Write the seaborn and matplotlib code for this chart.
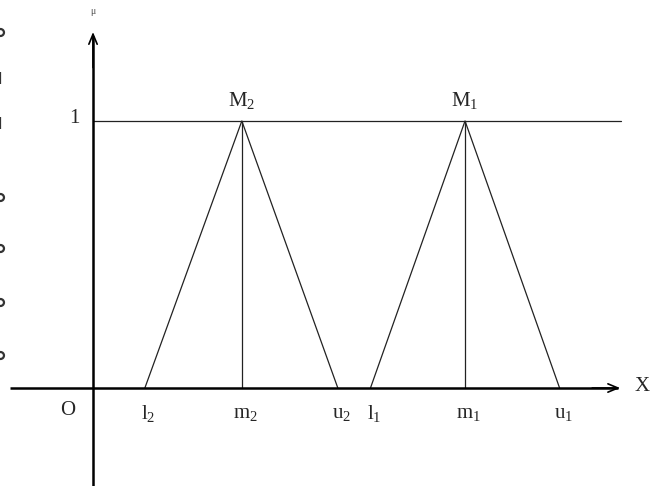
import numpy as np
import pandas as pd
import matplotlib
matplotlib.use("Agg")
import matplotlib.pyplot as plt
import seaborn as sns

# --- data (x positions in axis units) ---
fuzzy_names = ["M2", "M1"]
lower = [0.54, 2.89]
modal = [1.55, 3.875]
upper = [2.55, 4.86]
peak_labels = [r"$\mathrm{M}_2$", r"$\mathrm{M}_1$"]
tick_labels = [r"$\mathrm{l}_2$", r"$\mathrm{m}_2$", r"$\mathrm{u}_2$",
               r"$\mathrm{l}_1$", r"$\mathrm{m}_1$", r"$\mathrm{u}_1$"]
# scan specks along the left edge (y in pixels from top)
edge_rows = [32, 78, 123, 197, 248, 302, 355]
edge_shapes = ["o", "|", "|", "o", "o", "o", "o"]

sns.set_theme(style="white")
plt.rcParams["font.family"] = ["Liberation Serif", "DejaVu Serif"]
plt.rcParams["mathtext.fontset"] = "custom"
plt.rcParams["mathtext.rm"] = "Liberation Serif"
plt.rcParams["mathtext.it"] = "Liberation Serif:italic"

rows = []
for name, l, m, u in zip(fuzzy_names, lower, modal, upper):
    rows += [(name, l, 0.0), (name, m, 1.0), (name, u, 0.0)]
df = pd.DataFrame(rows, columns=["num", "x", "mu"])

fig = plt.figure(figsize=(6.53, 4.86), dpi=100)
ax = fig.add_axes([0, 0, 1, 1])
ax.set_xlim(-0.969, 5.833)
ax.set_ylim(-0.367, 1.453)
ax.axis("off")

# triangles
sns.lineplot(data=df, x="x", y="mu", units="num", estimator=None, sort=False,
             color="#222222", lw=0.9, ax=ax, legend=False)
# verticals at the modal values
for m in modal:
    ax.plot([m, m], [0, 1], color="#222222", lw=0.9)
# level mu = 1
ax.plot([0, 5.5], [1, 1], color="#222222", lw=0.9)

# axes with open arrowheads
ax.plot([-0.87, 5.47], [0, 0], color="black", lw=1.8, solid_capstyle="butt")
ax.plot([0, 0], [-0.367, 1.32], color="black", lw=1.8, solid_capstyle="butt")
ax.annotate("", xy=(5.49, 0), xytext=(5.2, 0),
            arrowprops=dict(arrowstyle="->,head_length=0.6,head_width=0.25",
                            color="black", lw=1.2, shrinkA=0, shrinkB=0))
ax.annotate("", xy=(0, 1.333), xytext=(0, 1.2),
            arrowprops=dict(arrowstyle="->,head_length=0.6,head_width=0.25",
                            color="black", lw=1.2, shrinkA=0, shrinkB=0))

# labels
fs = 15
ax.text(5.72, 0.005, "X", fontsize=fs, ha="center", va="center")
ax.text(0, 1.41, "μ", fontsize=7, ha="center", va="center", color="#555555")
ax.text(-0.19, 1.01, "1", fontsize=fs, ha="center", va="center")
ax.text(-0.26, -0.085, "O", fontsize=fs, ha="center", va="center")
for x, lab in zip([lower[0], modal[0], upper[0], lower[1], modal[1], upper[1]], tick_labels):
    ax.text(x + 0.04, -0.097, lab, fontsize=fs, ha="center", va="center")
for m, lab in zip(modal, peak_labels):
    ax.text(m, 1.075, lab, fontsize=fs, ha="center", va="center")

# specks on the left border (half cut by the edge, as in the scan)
for shape, yp in zip(edge_shapes, edge_rows):
    ax.plot([0.0], [1 - yp / 486], marker=shape, ms=5 if shape == "o" else 9,
            mfc="none" if shape == "o" else "#333333", mec="#333333", mew=1.6,
            transform=fig.transFigure, clip_on=False)

fig.savefig("out.png", dpi=100)
